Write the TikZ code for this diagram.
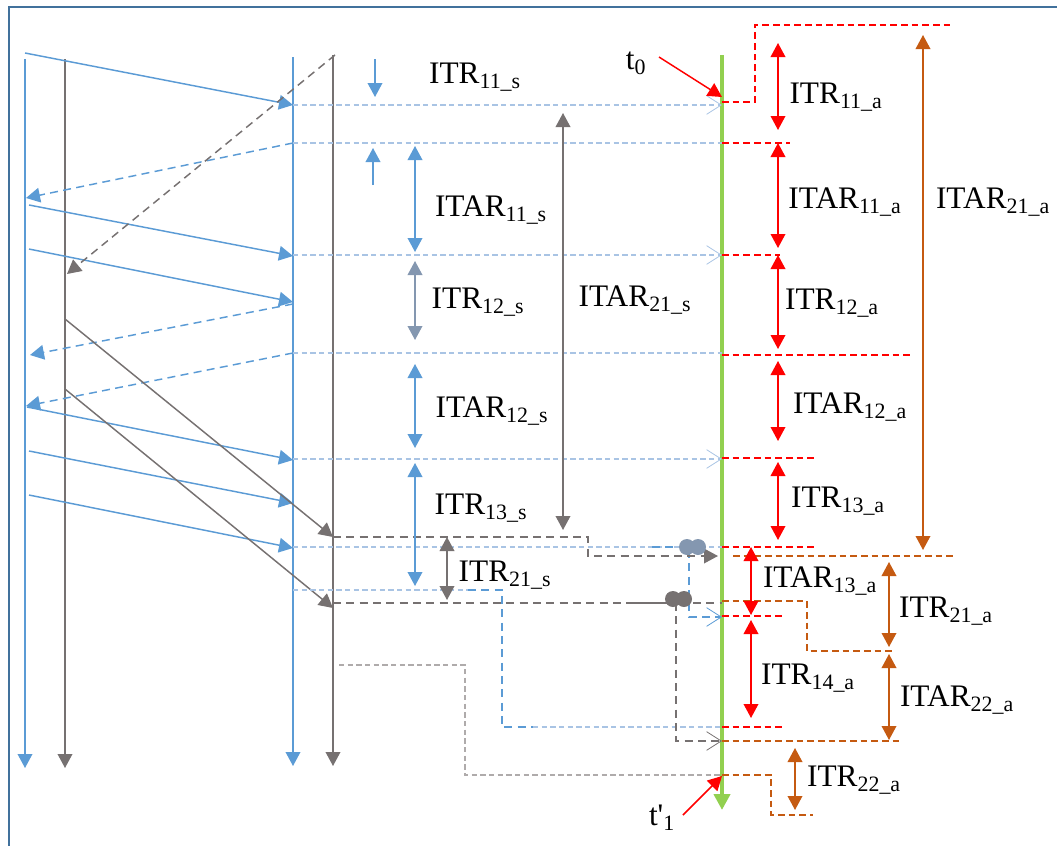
\documentclass[tikz,border=0pt]{standalone}
\usepackage{fontspec}
\setmainfont{Liberation Serif}
\usepackage{xcolor}
\usetikzlibrary{arrows.meta}
\definecolor{msgblue}{HTML}{5B9BD5}
\definecolor{paleblue}{HTML}{A9C4E4}
\definecolor{msggray}{HTML}{767171}
\definecolor{palegray}{HTML}{AFABAB}
\definecolor{slateblue}{HTML}{8497B0}
\definecolor{rust}{HTML}{C55A11}
\definecolor{lime}{HTML}{92D050}
\definecolor{framecol}{HTML}{41719C}
\tikzset{
  tri/.style={-{Triangle[length=10.5pt,width=11pt]}},
  dtri/.style={{Triangle[length=10.5pt,width=11pt]}-{Triangle[length=10.5pt,width=11pt]}},
  open/.style={-{Straight Barb[length=11pt,width=14pt,line width=0.6pt]}},
  bline/.style={msgblue,line width=1.1pt},
  gline/.style={msggray,line width=1.1pt},
  hline/.style={paleblue,line width=0.8pt,dash pattern=on 4pt off 2.5pt},
  hgray/.style={palegray,line width=0.8pt,dash pattern=on 4pt off 2.5pt},
  bdash/.style={msgblue,line width=1.1pt,dash pattern=on 6pt off 4pt},
  gdash/.style={msggray,line width=1.1pt,dash pattern=on 6pt off 4pt},
  rdash/.style={red,line width=0.9pt,dash pattern=on 5pt off 3pt},
  odash/.style={rust,line width=0.9pt,dash pattern=on 5pt off 3pt},
  lbl/.style={font=\fontsize{23.5}{25}\selectfont,inner sep=0pt}
}
\begin{document}
\begin{tikzpicture}[x=0.75pt,y=-0.75pt]
\useasboundingbox (0,0) rectangle (1057,846);
\draw[framecol,line width=1.5pt] (9,846)--(9,7)--(1057,7);
% life lines
\draw[bline,tri] (25,59)--(25,768);
\draw[gline,tri] (65,59)--(65,768);
\draw[bline,tri] (293,57)--(293,766);
\draw[gline,tri] (333,55)--(333,766);
\draw[lime,line width=3pt,-{Triangle[length=12pt,width=12pt]}] (722,55)--(722,810);
% messages
\draw[bline,tri] (25,53)--(293,105);
\draw[bline,tri] (29,205)--(293,256);
\draw[bline,tri] (29,249)--(293,302);
\draw[bline,tri] (27,407)--(293,460);
\draw[bline,tri] (29,451)--(293,503);
\draw[bline,tri] (29,495)--(293,548);
\draw[bdash,tri] (293,143)--(26,198);
\draw[bdash,tri] (293,304)--(30,355);
\draw[bdash,tri] (293,353)--(26,406);
\draw[gdash,tri] (335,55)--(67,274);
\draw[gline,tri] (65,319)--(333,537);
\draw[gline,tri] (65,389)--(333,608);
% horizontal projections
\draw[hline,open] (293,105)--(722,105);
\draw[hline] (293,143)--(722,143);
\draw[hline,open] (293,255)--(722,255);
\draw[hline] (293,353)--(722,353);
\draw[hline,open] (293,459)--(722,459);
\draw[hline] (293,547)--(722,547);
\draw[hline] (293,590)--(468,590);
\draw[bdash] (468,590)--(502,590)--(502,727)--(533,727);
\draw[hline] (533,727)--(722,727);
\draw[bdash,open] (652,547)--(689,547)--(689,617)--(722,617);
\draw[gdash,tri] (333,537)--(588,537)--(588,556)--(718,556);
\draw[gdash] (333,603)--(722,603);
\draw[gline] (628,603)--(670,603);
\draw[gdash,open] (676,603)--(676,741)--(722,741);
\draw[hgray] (339,665)--(465,665)--(465,775)--(722,775);
\fill[slateblue] (687,547) circle (8) (698,547) circle (8);
\fill[msggray] (673,599) circle (8) (684,599) circle (8);
% red side
\draw[rdash] (722,102)--(755,102)--(755,25)--(953,25);
\draw[rdash] (722,143)--(790,143);
\draw[rdash] (722,255)--(780,255);
\draw[rdash] (722,355)--(913,355);
\draw[rdash] (722,458)--(817,458);
\draw[rdash] (722,547)--(815,547);
\draw[rdash] (722,616)--(785,616);
\draw[rdash] (722,727)--(783,727);
\draw[odash] (733,556)--(953,556);
\draw[odash] (722,601)--(807,601)--(807,651)--(895,651);
\draw[odash] (722,741)--(902,741);
\draw[odash] (722,775)--(771,775)--(771,815)--(813,815);
% intervals
\draw[red,line width=1.1pt,dtri] (778,43)--(778,130);
\draw[red,line width=1.1pt,dtri] (778,143)--(778,248);
\draw[red,line width=1.1pt,dtri] (778,255)--(778,349);
\draw[red,line width=1.1pt,dtri] (778,361)--(778,441);
\draw[red,line width=1.1pt,dtri] (778,462)--(778,540);
\draw[red,line width=1.1pt,dtri] (751,547)--(751,615);
\draw[red,line width=1.1pt,dtri] (751,620)--(751,718);
\draw[rust,line width=1.1pt,dtri] (923,35)--(923,550);
\draw[rust,line width=1.1pt,dtri] (889,562)--(889,647);
\draw[rust,line width=1.1pt,dtri] (889,654)--(889,740);
\draw[rust,line width=1.1pt,dtri] (795,748)--(795,810);
\draw[bline,tri] (375,59)--(375,97);
\draw[bline,tri] (373,185)--(373,148);
\draw[bline,dtri] (415,146)--(415,252);
\draw[slateblue,line width=1.1pt,dtri] (415,261)--(415,340);
\draw[bline,dtri] (415,364)--(415,448);
\draw[bline,dtri] (415,463)--(415,586);
\draw[gline,dtri] (447,537)--(447,600);
\draw[gline,dtri] (563,113)--(563,530);
\draw[red,line width=1.1pt,tri] (659,57)--(722,97);
\draw[red,line width=1.1pt,tri] (683,815)--(722,776);
% labels
\node[lbl] (t0) at (636,63) {t\textsubscript{0}};
\node[lbl] (t1) at (662,818) {t{\addfontfeatures{Ligatures=TeXOff}'}\textsubscript{1}};
\node[lbl] (itr11s) at (475,77) {ITR\textsubscript{11\_s}};
\node[lbl] (itar11s) at (491,210) {ITAR\textsubscript{11\_s}};
\node[lbl] (itr12s) at (478,302) {ITR\textsubscript{12\_s}};
\node[lbl] (itar12s) at (492,411) {ITAR\textsubscript{12\_s}};
\node[lbl] (itr13s) at (481,508) {ITR\textsubscript{13\_s}};
\node[lbl] (itr21s) at (505,575) {ITR\textsubscript{21\_s}};
\node[lbl] (itar21s) at (635,300) {ITAR\textsubscript{21\_s}};
\node[lbl] (itr11a) at (836,97) {ITR\textsubscript{11\_a}};
\node[lbl] (itar11a) at (845,202) {ITAR\textsubscript{11\_a}};
\node[lbl] (itar21a) at (993,202) {ITAR\textsubscript{21\_a}};
\node[lbl] (itr12a) at (832,303) {ITR\textsubscript{12\_a}};
\node[lbl] (itar12a) at (850,407) {ITAR\textsubscript{12\_a}};
\node[lbl] (itr13a) at (838,501) {ITR\textsubscript{13\_a}};
\node[lbl] (itar13a) at (820,581) {ITAR\textsubscript{13\_a}};
\node[lbl] (itr21a) at (946,611) {ITR\textsubscript{21\_a}};
\node[lbl] (itr14a) at (808,678) {ITR\textsubscript{14\_a}};
\node[lbl] (itar22a) at (957,700) {ITAR\textsubscript{22\_a}};
\node[lbl] (itr22a) at (854,780) {ITR\textsubscript{22\_a}};
\end{tikzpicture}
\end{document}
